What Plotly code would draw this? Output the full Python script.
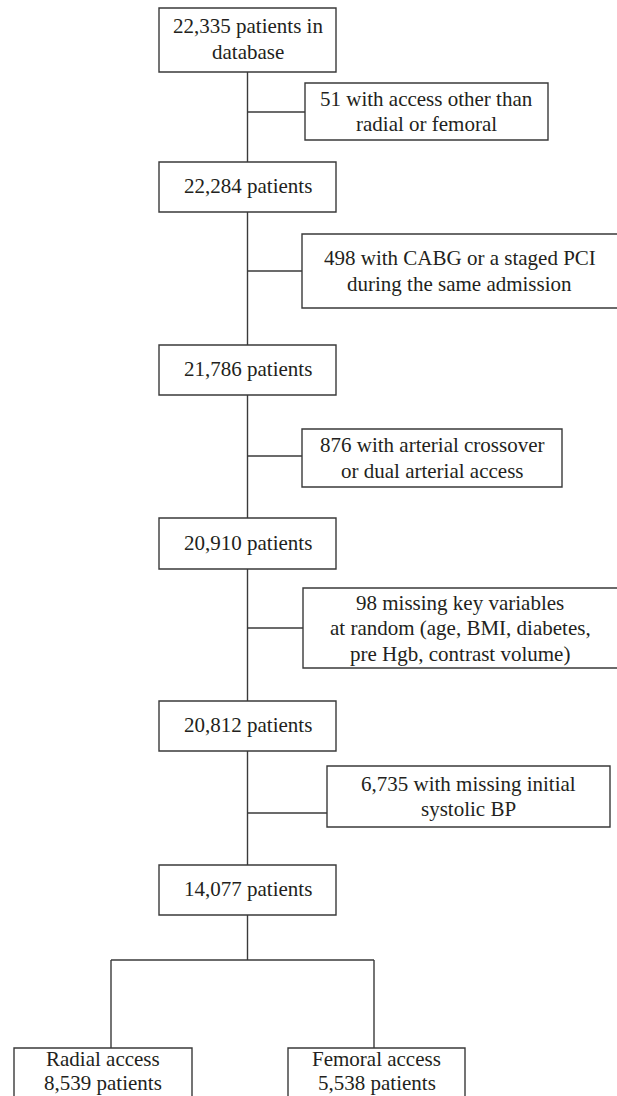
import plotly.graph_objects as go

# ---- data ----
main_counts = [22335, 22284, 21786, 20910, 20812, 14077]
main_suffix = ["patients in<br>database", "patients", "patients", "patients", "patients", "patients"]
excluded_counts = [51, 498, 876, 98, 6735]
excluded_reasons = [
    "with access other than<br>radial or femoral",
    "with CABG or a staged PCI<br>during the same admission",
    "with arterial crossover<br>or dual arterial access",
    "missing key variables<br>at random (age, BMI, diabetes,<br>pre Hgb, contrast volume)",
    "with missing initial<br>systolic BP",
]
group_labels = ["Radial access", "Femoral access"]
group_counts = [8539, 5538]

# ---- layout geometry (pixels, y downward) ----
W, H = 617, 1096
main_x = (159, 336)
spine_x = 247.5
main_y = [(8, 72), (162, 212), (345, 395), (518, 569), (701, 751), (865, 915)]
side_x = [(305, 548), (302, 640), (302, 562), (303, 640), (327, 610)]
side_y = [(83, 140), (234, 308), (429, 487), (588, 668), (766, 827)]
conn_y = [112, 271, 456, 628, 813]
bar_y = 960
group_x = [(14, 192), (288, 465)]
group_line_x = [111, 374]
group_top = 1048
LINE_GAP = 25.5

LINE = dict(color="#3a3a3a", width=1.4)
FONT = dict(family="Liberation Serif, Times New Roman, serif", size=21, color="#231f20")

fig = go.Figure()
shapes = []
annotations = []


def fmt(n):
    return f"{n:,}"


def add_text(cx, cy, text, gap=LINE_GAP):
    lines = text.split("<br>")
    n = len(lines)
    for i, ln in enumerate(lines):
        y = cy + (i - (n - 1) / 2) * gap
        annotations.append(dict(x=cx, y=y, text=ln, showarrow=False, font=FONT,
                                xanchor="center", yanchor="middle"))


for (y0, y1), cnt, suf in zip(main_y, main_counts, main_suffix):
    shapes.append(dict(type="rect", x0=main_x[0], x1=main_x[1], y0=y0, y1=y1, line=LINE, fillcolor="white"))
    add_text((main_x[0] + main_x[1]) / 2, (y0 + y1) / 2 - 1, f"{fmt(cnt)} {suf}")

# spine segments
for i in range(len(main_y) - 1):
    shapes.append(dict(type="line", x0=spine_x, x1=spine_x, y0=main_y[i][1], y1=main_y[i + 1][0], line=LINE))
shapes.append(dict(type="line", x0=spine_x, x1=spine_x, y0=main_y[-1][1], y1=bar_y, line=LINE))

for (x0, x1), (y0, y1), cy, cnt, why in zip(side_x, side_y, conn_y, excluded_counts, excluded_reasons):
    shapes.append(dict(type="rect", x0=x0, x1=x1, y0=y0, y1=y1, line=LINE, fillcolor="white"))
    shapes.append(dict(type="line", x0=spine_x, x1=x0, y0=cy, y1=cy, line=LINE))
    cx = (x0 + min(x1, W)) / 2
    add_text(cx, (y0 + y1) / 2, f"{fmt(cnt)} {why}")

# split
shapes.append(dict(type="line", x0=group_line_x[0], x1=group_line_x[1], y0=bar_y, y1=bar_y, line=LINE))
for lx, (x0, x1), lab, cnt in zip(group_line_x, group_x, group_labels, group_counts):
    shapes.append(dict(type="line", x0=lx, x1=lx, y0=bar_y, y1=group_top, line=LINE))
    shapes.append(dict(type="rect", x0=x0, x1=x1, y0=group_top, y1=group_top + 70, line=LINE, fillcolor="white"))
    add_text((x0 + x1) / 2, 1071, f"{lab}<br>{fmt(cnt)} patients", gap=23.5)

fig.update_layout(
    width=W, height=H,
    margin=dict(l=0, r=0, t=0, b=0),
    paper_bgcolor="white", plot_bgcolor="white",
    xaxis=dict(range=[0, W], visible=False, fixedrange=True),
    yaxis=dict(range=[H, 0], visible=False, fixedrange=True),
    shapes=shapes, annotations=annotations, showlegend=False,
)
fig.write_html("out.html", config={"displayModeBar": False},
               post_script="document.body.style.margin='0';document.body.style.overflow='hidden';")
